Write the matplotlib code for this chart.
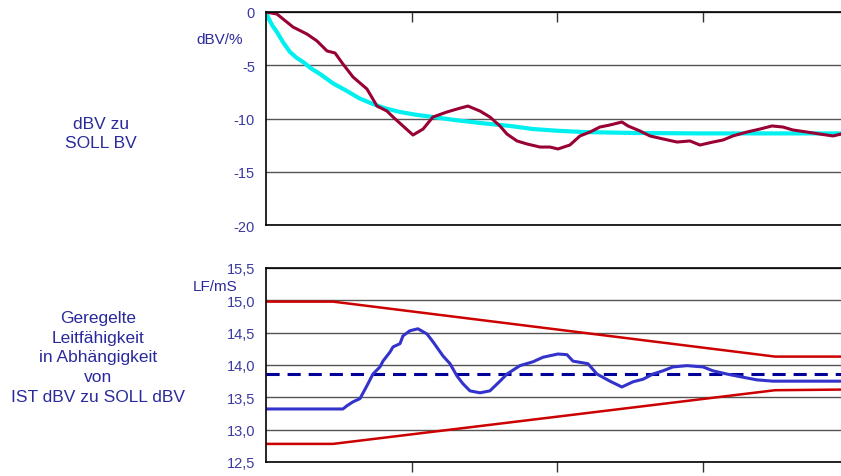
import matplotlib.pyplot as plt

plt.rcParams['font.family'] = ['Liberation Sans', 'DejaVu Sans']
plt.rcParams['axes.unicode_minus'] = False

TXT = '#2a2a9c'

# oberes Diagramm: dBV zu SOLL BV
ist_x = [0, .075, .185, .281, .35, .419, .474, .528, .597, .693, .762, .83, .872, .94,
         1.009, 1.078, 1.146, 1.242, 1.311, 1.386, 1.469, 1.537, 1.606, 1.654, 1.723,
         1.791, 1.881, 1.949, 2.004, 2.086, 2.155, 2.224, 2.292, 2.361, 2.443, 2.485,
         2.567, 2.636, 2.725, 2.821, 2.91, 2.979, 3.068, 3.137, 3.205, 3.301, 3.391,
         3.473, 3.548, 3.617, 3.713, 3.802, 3.892, 3.947]
ist_dbv = [0, -0.19, -1.41, -2.07, -2.72, -3.66, -3.85, -4.88, -6.10, -7.23, -8.83, -9.30,
           -9.86, -10.70, -11.55, -10.99, -9.86, -9.39, -9.11, -8.83, -9.30, -9.86, -10.70,
           -11.46, -12.11, -12.39, -12.68, -12.68, -12.86, -12.49, -11.64, -11.27, -10.80,
           -10.61, -10.33, -10.70, -11.17, -11.64, -11.92, -12.21, -12.11, -12.49, -12.21,
           -12.02, -11.64, -11.27, -10.99, -10.70, -10.80, -11.08, -11.27, -11.46, -11.64,
           -11.46]
soll_x = [0, .02, .045, .075, .12, .165, .21, .254, .31, .371, .46, .556, .64, .734, .82,
          .92, 1.03, 1.146, 1.3, 1.469, 1.675, 1.833, 2.0, 2.176, 2.519, 2.979, 3.947]
soll_dbv = [0, -0.66, -1.3, -1.88, -2.9, -3.76, -4.3, -4.69, -5.3, -5.82, -6.7, -7.42,
            -8.1, -8.64, -9.05, -9.39, -9.65, -9.86, -10.15, -10.42, -10.70, -10.99,
            -11.15, -11.27, -11.36, -11.40, -11.40]

# unteres Diagramm: geregelte Leitfähigkeit
grenze_x = [0, 0.46, 3.494, 3.947]
grenze_oben = [14.98, 14.98, 14.13, 14.13]
grenze_unten = [12.78, 12.78, 13.61, 13.62]
sollwert_lf = 13.86
lf_x = [0, .528, .556, .597, .645, .693, .734, .782, .803, .851, .872, .92, .94, .988,
        1.043, 1.105, 1.146, 1.215, 1.263, 1.311, 1.352, 1.40, 1.469, 1.537, 1.606,
        1.654, 1.743, 1.833, 1.901, 2.004, 2.066, 2.107, 2.21, 2.272, 2.361, 2.443,
        2.519, 2.588, 2.656, 2.725, 2.793, 2.89, 3.0, 3.068, 3.164, 3.253, 3.37, 3.48,
        3.947]
lf = [13.32, 13.32, 13.37, 13.43, 13.48, 13.68, 13.86, 13.97, 14.06, 14.20, 14.28, 14.33,
      14.45, 14.53, 14.56, 14.48, 14.36, 14.14, 14.02, 13.83, 13.71, 13.60, 13.57, 13.60,
      13.75, 13.86, 13.99, 14.05, 14.12, 14.17, 14.16, 14.06, 14.02, 13.86, 13.75, 13.66,
      13.74, 13.78, 13.86, 13.91, 13.97, 13.99, 13.97, 13.91, 13.86, 13.82, 13.77, 13.75,
      13.75]

xmax = 3.947

fig = plt.figure(figsize=(8.41, 4.77), dpi=100)
ax1 = fig.add_axes([266 / 841, 1 - 226 / 477, 1 - 266 / 841, 213 / 477])
ax2 = fig.add_axes([266 / 841, 1 - 463 / 477, 1 - 266 / 841, 194 / 477])


def style(ax):
    ax.set_xlim(0, xmax)
    ax.spines['right'].set_visible(False)
    for s in ['left', 'top', 'bottom']:
        ax.spines[s].set_color('black')
        ax.spines[s].set_linewidth(1.2)
    ax.grid(axis='y', color='#555555', linewidth=1.0)
    ax.set_axisbelow(True)
    ax.tick_params(axis='y', length=0, pad=8, labelsize=10.5, labelcolor='#3a3aa0')
    ax.set_xticks([1, 2, 3])
    ax.set_xticklabels([])


# oben
style(ax1)
ax1.set_ylim(-20, 0)
ax1.set_yticks([0, -5, -10, -15, -20])
ax1.xaxis.set_ticks_position('top')
ax1.tick_params(axis='x', direction='in', length=7, width=1, color='#333333')
ax1.plot(soll_x, soll_dbv, color='#00f0f0', lw=3.0, solid_capstyle='butt')
ax1.plot(ist_x, ist_dbv, color='#990033', lw=2.2)
fig.text(220 / 841, 1 - 40 / 477, 'dBV/%', color=TXT, fontsize=11, ha='center', va='center')
fig.text(101 / 841, 1 - 134 / 477, 'dBV zu\nSOLL BV', color=TXT, fontsize=12.5,
         ha='center', va='center', linespacing=1.4)

# unten
style(ax2)
ax2.set_ylim(12.5, 15.5)
ticks = [12.5, 13.0, 13.5, 14.0, 14.5, 15.0, 15.5]
ax2.set_yticks(ticks)
ax2.set_yticklabels([f'{t:.1f}'.replace('.', ',') for t in ticks])
ax2.tick_params(axis='x', direction='out', length=7, width=1, color='#333333')
ax2.plot(grenze_x, grenze_oben, color='#cc0000', lw=1.8)
ax2.plot(grenze_x, grenze_unten, color='#cc0000', lw=1.8)
ax2.axhline(sollwert_lf, color='#000099', lw=2.2, dashes=(4.3, 2.6))
ax2.plot(lf_x, lf, color='#3333cc', lw=2.2)
fig.text(215 / 841, 1 - 287 / 477, 'LF/mS', color=TXT, fontsize=11, ha='center', va='center')
fig.text(98 / 841, 1 - 358 / 477,
         'Geregelte\nLeitfähigkeit\nin Abhängigkeit\nvon\nIST dBV zu SOLL dBV',
         color=TXT, fontsize=12.5, ha='center', va='center', linespacing=1.4)

fig.savefig('out.png', dpi=100)
